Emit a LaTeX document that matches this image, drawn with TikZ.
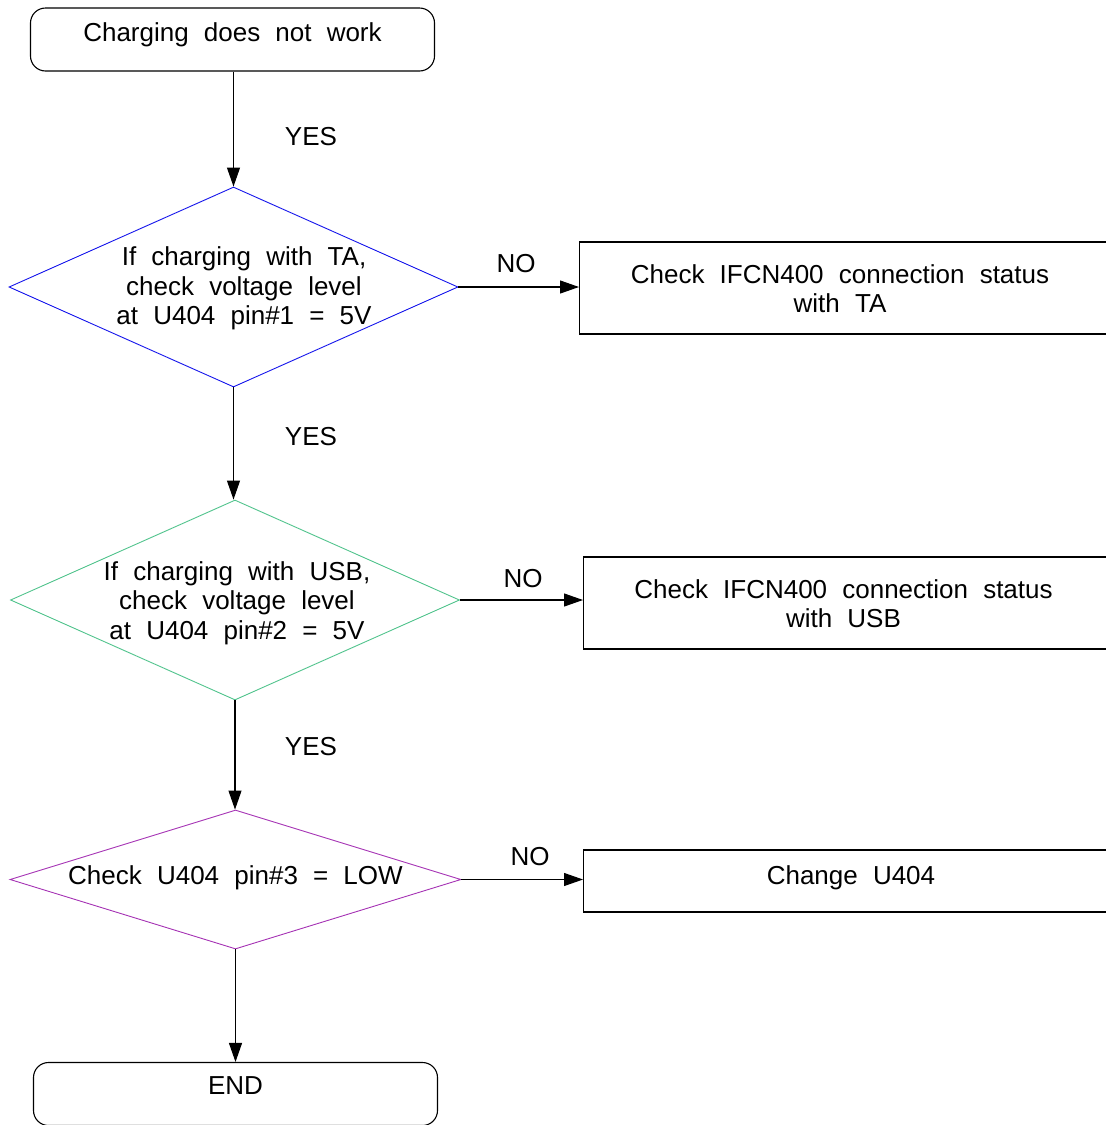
\documentclass[tikz,border=0pt]{standalone}
\usepackage{fontspec}
\setmainfont{Liberation Sans}[WordSpace=2.1]
\usetikzlibrary{arrows.meta,positioning,shapes.geometric}

\tikzset{
  flow/.style={line width=1.1pt,-{Triangle[length=19pt,width=13pt]}},
  termbox/.style={draw,line width=1.1pt,rounded corners=15pt,minimum width=404pt,inner sep=0pt},
  checkbox/.style={draw,line width=1.1pt,inner sep=0pt,minimum width=540pt,anchor=west},
  decision/.style={draw,diamond,line width=0.9pt,inner sep=0pt,minimum width=449pt,minimum height=200pt},
  txt/.style={align=center,inner sep=0pt},
}
\definecolor{taBlue}{RGB}{20,20,235}
\definecolor{usbGreen}{RGB}{80,195,140}
\definecolor{lowPurple}{RGB}{165,50,180}

\begin{document}
\begin{tikzpicture}[x=1pt,y=-1pt,font=\fontsize{26}{29.5}\selectfont]
\clip (0,0) rectangle (1106,1125);
% start / end
\node[termbox,text height=33pt,text depth=30pt] (start) at (232.5,39.5) {Charging does not work};
\node[termbox,text height=32pt,text depth=31pt] (stop) at (235.5,1094) {END};
% decisions
\node[decision,draw=taBlue] (d1) at (233.5,287) {};
\node[decision,draw=usbGreen] (d2) at (235,600) {};
\node[decision,draw=lowPurple,minimum width=451pt,minimum height=139pt] (d3) at (235.5,879.5) {};
\node[txt] (t1) at (244,288.5) {If charging with TA,\\check voltage level\\at U404 pin\#1 = 5V};
\node[txt] (t2) at (237,603) {If charging with USB,\\check voltage level\\at U404 pin\#2 = 5V};
\node[txt] (t3) at (235.5,878) {Check U404 pin\#3 = LOW};
% checks on the right
\node[checkbox,minimum height=92pt] (b1) at (579,288) {};
\node[checkbox,minimum height=92pt] (b2) at (583,603) {};
\node[checkbox,minimum height=62pt] (b3) at (583,881) {};
\node[txt] (c1) at (840,288.5) {Check IFCN400 connection status\\with TA};
\node[txt] (c2) at (843.5,603.5) {Check IFCN400 connection status\\with USB};
\node[txt] (c3) at (851,878) {Change U404};
% arrows
\draw[flow] (start.south -| d1.north) -- (d1.north);
\draw[flow] (d1.south) -- (d2.north -| d1.south);
\draw[flow] (d2.south) -- (d3.north -| d2.south);
\draw[flow] (d3.south) -- (stop.north -| d3.south);
\draw[flow] (d1.east) -- (d1.east -| b1.west);
\draw[flow] (d2.east) -- (d2.east -| b2.west);
\draw[flow] (d3.east) -- (d3.east -| b3.west);
\node at (311,137) {YES};
\node at (311,437) {YES};
\node at (311,747) {YES};
\node at (516,264) {NO};
\node at (523,579) {NO};
\node at (530,857) {NO};
\end{tikzpicture}
\end{document}
